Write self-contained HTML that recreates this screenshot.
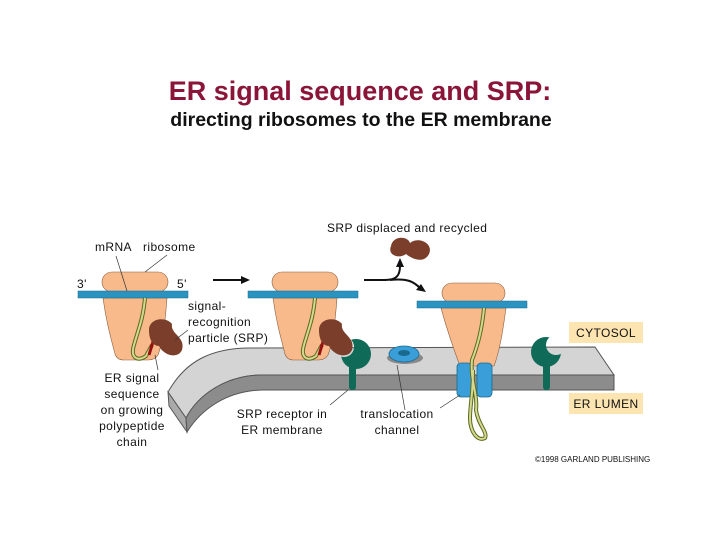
<!DOCTYPE html>
<html><head><style>
html,body{margin:0;padding:0;background:#fff;}
svg{display:block;}
.t{font-family:"Liberation Sans",sans-serif;font-weight:bold;}
.l{font-family:"Liberation Sans",sans-serif;font-size:12px;letter-spacing:0.4px;fill:#111;}
</style></head><body>
<svg width="720" height="540" viewBox="0 0 720 540" xmlns="http://www.w3.org/2000/svg">
<defs>
<mask id="m1"><rect width="720" height="540" fill="#fff"/><circle cx="344" cy="347" r="10" fill="#000"/></mask>
<mask id="m2"><rect width="720" height="540" fill="#fff"/><circle cx="556" cy="345" r="10" fill="#000"/></mask>
</defs>
<rect width="720" height="540" fill="#fff"/>
<text class="t" x="360" y="100" text-anchor="middle" font-size="27" fill="#8a1538">ER signal sequence and SRP:</text>
<text class="t" x="361" y="126" text-anchor="middle" font-size="19.5" fill="#111">directing ribosomes to the ER membrane</text>

<!-- membrane -->
<path d="M168,392 C185,362 210,348 250,348 L595,347 L614,375 L260,375 C225,376 198,395 186,418 Z" fill="#d4d4d4" stroke="#555" stroke-width="1"/>
<path d="M168,392 L186,418 L187,432 L169,406 Z" fill="#aaa" stroke="#555" stroke-width="1"/>
<path d="M186,418 C198,395 225,376 260,375 L614,375 L614,390 L262,390 C228,391 202,408 187,432 Z" fill="#8c8c8c" stroke="#555" stroke-width="1"/>

<!-- ribosome 1 -->
<rect x="102" y="272" width="66" height="20" rx="10" fill="#f8b98b" stroke="#8a6040" stroke-width="0.6"/>
<path d="M103,298 L167,298 C165,325 162,345 158,355 Q155,360 148,360 L124,360 Q117,360 115,354 C110,335 106,320 103,298 Z" fill="#f8b98b" stroke="#8a6040" stroke-width="0.6"/>
<rect x="78" y="291" width="110" height="7" fill="#2a93c0" stroke="#1a6a90" stroke-width="0.5"/>
<path d="M145,298 C143,320 138,330 134,345 C130,358 138,362 146,356 L152,345" fill="none" stroke="#5a6a20" stroke-width="4"/>
<path d="M145,298 C143,320 138,330 134,345 C130,358 138,362 146,356 L152,345" fill="none" stroke="#d6d890" stroke-width="2"/>
<path d="M149,355 L155,335" stroke="#9a1010" stroke-width="3"/>
<path d="M149,330 C149,318 166,316 172,324 C170,334 186,337 182,350 C178,359 164,356 159,346 C153,346 149,340 149,330 Z" fill="#7a3e2a"/>

<!-- ribosome 2 -->
<rect x="272" y="272" width="66" height="20" rx="10" fill="#f8b98b" stroke="#8a6040" stroke-width="0.6"/>
<path d="M273,298 L337,298 C335,325 332,345 328,355 Q325,360 318,360 L294,360 Q287,360 285,354 C280,335 276,320 273,298 Z" fill="#f8b98b" stroke="#8a6040" stroke-width="0.6"/>
<rect x="248" y="291" width="110" height="7" fill="#2a93c0" stroke="#1a6a90" stroke-width="0.5"/>
<path d="M315,298 C313,320 308,330 304,345 C300,358 308,362 316,356 L322,345" fill="none" stroke="#5a6a20" stroke-width="4"/>
<path d="M315,298 C313,320 308,330 304,345 C300,358 308,362 316,356 L322,345" fill="none" stroke="#d6d890" stroke-width="2"/>

<!-- receptors -->
<g fill="#0f6b58">
<circle cx="356" cy="354" r="15" mask="url(#m1)"/>
<rect x="349" y="362" width="7" height="28" rx="3"/>
<circle cx="546" cy="352" r="15" mask="url(#m2)"/>
<rect x="543" y="360" width="7" height="30" rx="3"/>
</g>
<path d="M319,355 L325,335" stroke="#9a1010" stroke-width="3"/>
<path d="M319,330 C319,318 336,316 342,324 C340,334 356,337 352,350 C348,359 334,356 329,346 C323,346 319,340 319,330 Z" fill="#7a3e2a"/>

<!-- free translocon -->
<ellipse cx="405" cy="358" rx="18" ry="6" fill="#888"/>
<ellipse cx="404" cy="354" rx="15" ry="8" fill="#3a9fd8" stroke="#1a6a90" stroke-width="0.8"/>
<ellipse cx="404" cy="353" rx="6" ry="3" fill="#1a6a90"/>

<!-- arrows -->
<path d="M213,280 L244,280" stroke="#111" stroke-width="2"/>
<path d="M250,280 L241,276 L241,284 Z" fill="#111"/>
<path d="M364,280 L385,280 C396,280 400,276 400,266" fill="none" stroke="#111" stroke-width="2"/>
<path d="M400,258 L396,267 L404,267 Z" fill="#111"/>
<path d="M390,280 C408,278 414,282 420,288" fill="none" stroke="#111" stroke-width="2"/>
<path d="M426,292 L416,290 L421,284 Z" fill="#111"/>
<path d="M391,246 C393,235 408,236 410,243 C418,236 434,243 429,254 C424,264 412,259 406,254 C400,259 387,256 391,246 Z" fill="#7a3e2a"/>

<!-- ribosome 3 -->
<rect x="442" y="283" width="63" height="20" rx="10" fill="#f8b98b" stroke="#8a6040" stroke-width="0.6"/>
<path d="M441,308 L506,308 C503,330 500,350 494,366 L460,366 C454,350 447,330 441,308 Z" fill="#f8b98b" stroke="#8a6040" stroke-width="0.6"/>
<rect x="417" y="301" width="110" height="7" fill="#2a93c0" stroke="#1a6a90" stroke-width="0.5"/>
<rect x="457" y="363" width="15" height="34" rx="4" fill="#3a9fd8" stroke="#1a6a90" stroke-width="0.8"/>
<rect x="477" y="363" width="15" height="34" rx="4" fill="#3a9fd8" stroke="#1a6a90" stroke-width="0.8"/>
<path d="M484,308 C482,330 478,345 472,360 C470,380 478,395 476,410 C478,425 488,432 485,438 C478,442 470,432 470,418 C470,405 473,395 473,370" fill="none" stroke="#5a6a20" stroke-width="4"/>
<path d="M484,308 C482,330 478,345 472,360 C470,380 478,395 476,410 C478,425 488,432 485,438 C478,442 470,432 470,418 C470,405 473,395 473,370" fill="none" stroke="#d6d890" stroke-width="2"/>

<!-- label boxes -->
<rect x="569" y="322" width="74" height="21" fill="#fde5b2"/>
<text class="l" x="606" y="337" text-anchor="middle">CYTOSOL</text>
<rect x="569" y="393" width="74" height="21" fill="#fde5b2"/>
<text class="l" x="606" y="408" text-anchor="middle">ER LUMEN</text>

<!-- leader lines -->
<g stroke="#333" stroke-width="0.7" fill="none">
<line x1="116" y1="256" x2="127" y2="291"/>
<line x1="167" y1="255" x2="145" y2="272"/>
<line x1="188" y1="330" x2="175" y2="340"/>
<line x1="155" y1="355" x2="158" y2="370"/>
<line x1="330" y1="405" x2="348" y2="390"/>
<line x1="397" y1="365" x2="405" y2="410"/>
<line x1="440" y1="408" x2="460" y2="395"/>
</g>

<g class="l">
<text x="95" y="251">mRNA</text>
<text x="143" y="251">ribosome</text>
<text x="77" y="288">3'</text>
<text x="177" y="288">5'</text>
<text x="188" y="310">signal-</text>
<text x="188" y="326">recognition</text>
<text x="188" y="342">particle (SRP)</text>
<text x="132" y="382" text-anchor="middle">ER signal</text>
<text x="132" y="398" text-anchor="middle">sequence</text>
<text x="132" y="414" text-anchor="middle">on growing</text>
<text x="132" y="430" text-anchor="middle">polypeptide</text>
<text x="132" y="446" text-anchor="middle">chain</text>
<text x="327" y="232">SRP displaced and recycled</text>
<text x="282" y="418" text-anchor="middle">SRP receptor in</text>
<text x="282" y="434" text-anchor="middle">ER membrane</text>
<text x="397" y="418" text-anchor="middle">translocation</text>
<text x="397" y="434" text-anchor="middle">channel</text>
</g>
<text x="535" y="462" font-size="8" style="font-family:'Liberation Sans',sans-serif;font-weight:normal" fill="#111">©1998 GARLAND PUBLISHING</text>
</svg>
</body></html>
